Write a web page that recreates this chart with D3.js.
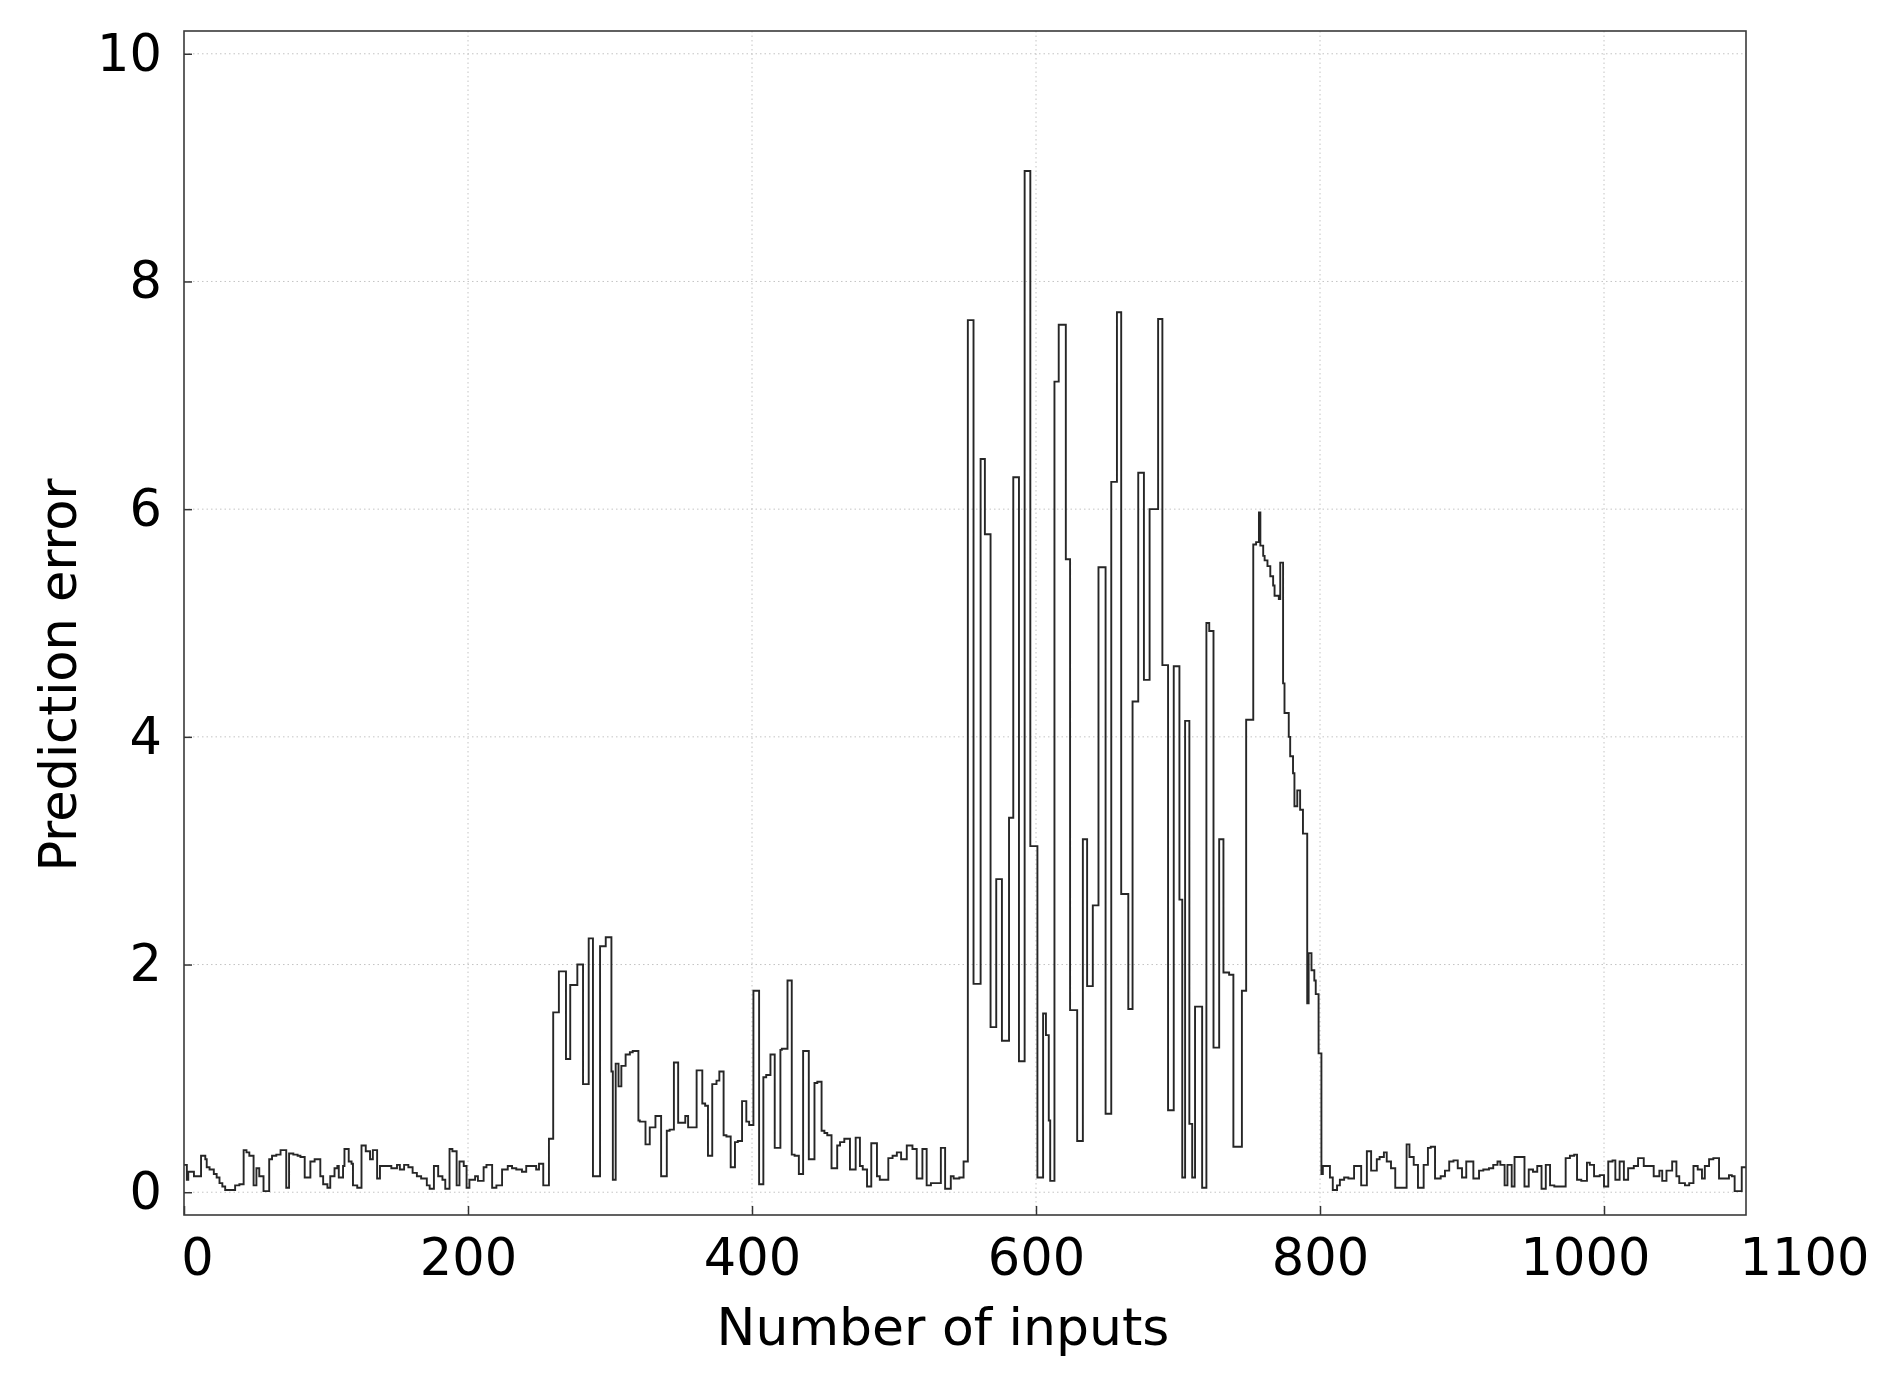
<!DOCTYPE html>
<html>
<head>
<meta charset="utf-8">
<script src="https://cdn.jsdelivr.net/npm/d3@7"></script>
<style>
  html, body { margin: 0; padding: 0; background: #ffffff; }
  svg { display: block; }
  text { font-family: "DejaVu Sans", Verdana, sans-serif; fill: #000; }
</style>
</head>
<body>
<svg id="chart" width="1886" height="1376"></svg>
<script>
// ---- data (step change points) ----
const inputAt = [
  0,2,3,7,12,15,16,18,21,23,25,27,29,36,39,42,44,46,49,51,53,56,60,62,65,68,72,74,77,80,82,85,89,92,96,98,101,103,106,108,109,112,113,116,118,119,122,125,128,131,133,136,138,146,150,152,155,158,161,164,167,171,173,176,179,182,184,187,189,192,194,197,199,201,205,207,211,213,217,220,224,228,231,234,238,241,248,250,253,
  257,260,264,269,272,277,281,285,288,293,297,301,302,304,306,308,311,314,316,320,321,325,328,332,336,340,342,345,348,353,355,361,365,367,369,372,375,377,380,382,385,388,390,393,396,398,401,405,408,410,413,416,420,421,425,428,430,433,436,440,444,446,449,451,453,456,460,462,465,469,473,476,478,481,484,488,490,496,499,502,505,509,513,516,520,523,526,533,536,540,542,546,549,
  552,556,561,564,568,572,576,581,584,588,592,596,601,605,607,609,610,613,616,621,624,629,633,636,640,644,649,653,657,660,665,668,672,676,680,686,689,693,697,701,703,705,708,710,712,717,720,722,725,729,732,736,739,745,748,753,755,757,758,760,761,763,765,767,768,771,772,774,775,778,779,781,782,784,786,788,791,792,794,796,797,799,
  801,802,807,809,812,814,817,820,824,829,833,836,840,842,845,847,850,853,861,863,866,869,873,876,878,881,885,888,891,894,897,900,903,908,912,915,919,922,925,927,930,932,935,937,944,947,950,953,956,959,962,965,973,976,979,981,984,988,990,993,997,1000,1003,1006,1008,1011,1014,1017,1021,1024,1028,1035,1039,1041,1044,1048,1051,1053,1057,1060,1063,1066,1069,1071,1074,1077,1081,1088,1090,1092,1097,1100
];
const predictionError = [
  0.24,0.11,0.18,0.14,0.32,0.29,0.22,0.20,0.16,0.13,0.08,0.05,0.02,0.06,0.07,0.37,0.35,0.32,0.06,0.21,0.14,0.01,0.29,0.32,0.33,0.37,0.04,0.34,0.33,0.32,0.31,0.13,0.27,0.29,0.14,0.07,0.04,0.14,0.21,0.23,0.13,0.23,0.38,0.27,0.25,0.06,0.04,0.41,0.36,0.29,0.37,0.12,0.23,0.21,0.24,0.20,0.24,0.22,0.17,0.14,0.12,0.06,0.03,0.23,0.14,0.11,0.03,0.38,0.36,0.06,0.27,0.23,0.04,0.11,0.14,0.10,0.22,0.24,0.04,0.06,0.20,0.23,0.21,0.20,0.18,0.23,0.20,0.25,0.06,
  0.47,1.58,1.94,1.17,1.82,2.00,0.95,2.23,0.14,2.16,2.24,1.06,0.11,1.13,0.93,1.11,1.21,1.23,1.24,0.63,0.62,0.42,0.57,0.67,0.14,0.54,0.55,1.14,0.61,0.67,0.57,1.07,0.78,0.76,0.32,0.95,0.98,1.06,0.50,0.49,0.22,0.44,0.45,0.80,0.62,0.59,1.77,0.07,1.01,1.03,1.21,0.39,1.25,1.26,1.86,0.33,0.32,0.16,1.24,0.29,0.96,0.97,0.54,0.52,0.50,0.21,0.41,0.44,0.47,0.20,0.48,0.23,0.20,0.05,0.43,0.14,0.11,0.30,0.32,0.35,0.29,0.41,0.38,0.12,0.38,0.06,0.08,0.39,0.03,0.14,0.12,0.13,0.27,
  7.66,1.83,6.44,5.78,1.45,2.75,1.33,3.29,6.28,1.15,8.97,3.04,0.13,1.57,1.38,0.63,0.10,7.12,7.62,5.56,1.60,0.45,3.10,1.81,2.52,5.49,0.69,6.24,7.73,2.62,1.61,4.31,6.32,4.50,6.00,7.67,4.63,0.72,4.62,2.57,0.13,4.14,0.60,0.13,1.63,0.04,5.00,4.93,1.27,3.10,1.93,1.91,0.40,1.77,4.15,5.69,5.71,5.97,5.68,5.59,5.55,5.50,5.41,5.33,5.24,5.21,5.53,4.47,4.21,4.00,3.83,3.68,3.39,3.53,3.36,3.15,1.66,2.10,1.95,1.86,1.74,1.22,
  0.16,0.23,0.13,0.02,0.06,0.11,0.13,0.12,0.23,0.06,0.36,0.19,0.29,0.31,0.35,0.27,0.21,0.04,0.42,0.31,0.24,0.04,0.24,0.39,0.40,0.12,0.14,0.19,0.27,0.28,0.21,0.13,0.27,0.12,0.19,0.20,0.21,0.24,0.27,0.24,0.06,0.24,0.05,0.31,0.05,0.20,0.18,0.23,0.03,0.24,0.06,0.05,0.30,0.32,0.33,0.11,0.10,0.26,0.24,0.14,0.15,0.05,0.27,0.28,0.11,0.27,0.11,0.21,0.23,0.30,0.23,0.14,0.19,0.10,0.19,0.27,0.14,0.08,0.06,0.08,0.23,0.20,0.12,0.23,0.29,0.30,0.12,0.15,0.14,0.01,0.22,0.22
];
const xTickValues = [0, 200, 400, 600, 800, 1000, 1100];
const xTickLabelShift = [13, 0, 0, 0, 0, -19, 58];
const yTickValues = [0, 2, 4, 6, 8, 10];
const xTitle = "Number of inputs";
const yTitle = "Prediction error";

// ---- layout ----
const W = 1886, H = 1376;
const plot = { left: 184, right: 1746, top: 31, bottom: 1215 };

const svg = d3.select("#chart");
const x = d3.scaleLinear().domain([0, 1100]).range([plot.left, plot.right]);
const y = d3.scaleLinear().domain([-0.2, 10.2]).range([plot.bottom, plot.top]);

// grid
const grid = svg.append("g").attr("class", "grid");
grid.selectAll("line.gx").data(xTickValues.filter(v => v > 0 && v < 1100)).enter()
  .append("line").attr("x1", d => x(d)).attr("x2", d => x(d))
  .attr("y1", plot.top).attr("y2", plot.bottom)
  .attr("stroke", "#c4c4c4").attr("stroke-width", 1).attr("stroke-dasharray", "1.5,3");
grid.selectAll("line.gy").data(yTickValues).enter()
  .append("line").attr("x1", plot.left).attr("x2", plot.right)
  .attr("y1", d => y(d)).attr("y2", d => y(d))
  .attr("stroke", "#c4c4c4").attr("stroke-width", 1).attr("stroke-dasharray", "1.5,3");

// data line
const pts = inputAt.map((v, i) => [v, predictionError[i]]);
svg.append("clipPath").attr("id", "clip").append("rect")
  .attr("x", plot.left).attr("y", plot.top)
  .attr("width", plot.right - plot.left).attr("height", plot.bottom - plot.top);
const line = d3.line().x(d => x(d[0])).y(d => y(d[1])).curve(d3.curveStepAfter);
svg.append("path").datum(pts)
  .attr("clip-path", "url(#clip)")
  .attr("fill", "none").attr("stroke", "#262626").attr("stroke-width", 1.9)
  .attr("stroke-linejoin", "miter")
  .attr("d", line);

// axes
const xAxis = d3.axisBottom(x).tickValues(xTickValues).tickFormat(d3.format("d"))
  .tickSizeInner(-9).tickSizeOuter(0).tickPadding(24);
const gx = svg.append("g").attr("transform", `translate(0,${plot.bottom})`).call(xAxis);
gx.select(".domain").remove();
gx.selectAll(".tick line").attr("stroke", "#333").attr("stroke-width", 1.5);
gx.selectAll(".tick").filter(d => d === 1100).select("line").remove();
gx.selectAll(".tick text")
  .attr("font-size", 51).attr("font-family", "DejaVu Sans, Verdana, sans-serif").attr("fill", "#000")
  .attr("dx", (d) => xTickLabelShift[xTickValues.indexOf(d)]);

const yAxis = d3.axisLeft(y).tickValues(yTickValues).tickFormat(d3.format("d"))
  .tickSizeInner(-8).tickSizeOuter(0).tickPadding(22);
const gy = svg.append("g").attr("transform", `translate(${plot.left},0)`).call(yAxis);
gy.select(".domain").remove();
gy.selectAll(".tick line").attr("stroke", "#333").attr("stroke-width", 1.5);
gy.selectAll(".tick text")
  .attr("font-size", 51).attr("font-family", "DejaVu Sans, Verdana, sans-serif").attr("fill", "#000");

// frame
svg.append("rect")
  .attr("x", plot.left).attr("y", plot.top)
  .attr("width", plot.right - plot.left).attr("height", plot.bottom - plot.top)
  .attr("fill", "none").attr("stroke", "#3a3a3a").attr("stroke-width", 1.6);

// titles
svg.append("text").attr("x", 943).attr("y", 1345)
  .attr("text-anchor", "middle").attr("font-size", 52).text(xTitle);
svg.append("text").attr("transform", "translate(76,675) rotate(-90)")
  .attr("text-anchor", "middle").attr("font-size", 51).text(yTitle);
</script>
</body>
</html>
